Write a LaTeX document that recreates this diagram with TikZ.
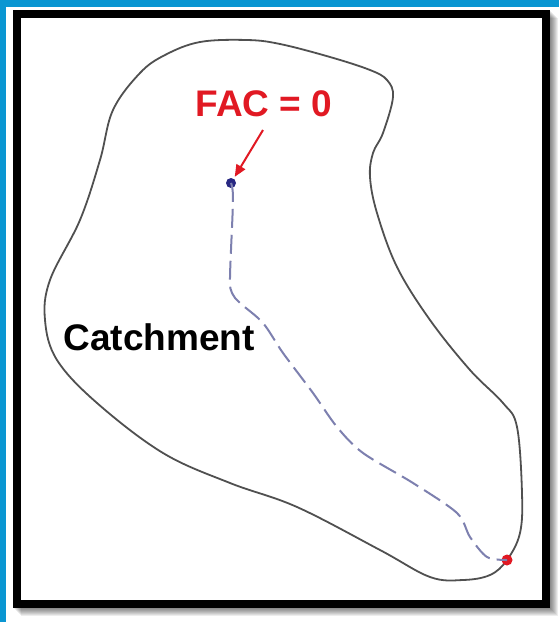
\documentclass[tikz,border=0pt]{standalone}
\usepackage{fontspec}
\setmainfont{Liberation Sans}
\usetikzlibrary{arrows.meta}

\definecolor{frameblue}{RGB}{10,150,210}
\definecolor{outlinegray}{RGB}{80,80,80}
\definecolor{facred}{RGB}{225,25,35}
\definecolor{srcblue}{RGB}{40,40,130}
\definecolor{flowblue}{RGB}{125,128,175}

\tikzset{
	label/.style={inner sep=0pt, font=\fontsize{37}{40}\selectfont\bfseries},
	dot/.style={circle, inner sep=0pt}
}

\begin{document}
	\begin{tikzpicture}[x=1pt, y=-1pt]
		\useasboundingbox (0,0) rectangle (559,622);
		\fill[white] (0,0) rectangle (559,622);
		\fill[frameblue] (0,0) rectangle (6,622);
		\fill[frameblue] (0,0) rectangle (559,7);
		% shadow
		\foreach \s in {1,...,8}
			\fill[black, opacity=0.07] (12.5+\s,10+\s) rectangle (550+\s,608+\s);
		\draw[line width=8pt, fill=white] (16.5,14) rectangle (546,604);

		% catchment outline
		\draw[outlinegray, line width=1.8pt] plot[smooth cycle, tension=0.6] coordinates {
			(200,42) (247,40) (280,44) (330,57) (370,70) (387,80) (393,97)
			(383,133) (373,153) (370,177) (377,213) (397,267) (430,320)
			(470,370) (503,403) (517,427) (522,493) (520,533) (507,560)
			(490,575) (463,580) (430,577) (380,550) (297,507) (230,483)
			(163,453) (97,403) (57,360) (45,320) (50,280) (80,220)
			(100,160) (113,110) (140,73) (165,55)
		};

		\node[label, text=facred] (fac) at (264,104) {FAC = 0};
		\node[label] (catch) at (159,337) {Catchment};

		\node[dot, fill=srcblue, minimum size=10pt] (src) at (231,183) {};
		\node[dot, fill=facred, minimum size=11pt] (outlet) at (507,560) {};
		\coordinate (arrowstart) at (263,130);

		% flow path
		\draw[flowblue, line width=2pt, dash pattern=on 19pt off 7pt]
			plot[smooth, tension=0.5] coordinates {
				(src) (233,200) (230,277) (232,293) (240,303) (263,323)
				(283,353) (313,393) (337,427) (363,453) (413,483)
				(457,513) (470,537) (487,557) (outlet)
			};

		\draw[facred, line width=2pt, -{Triangle[length=12pt, width=10pt]},
			shorten >=2pt] (arrowstart) -- (src);
	\end{tikzpicture}
\end{document}
